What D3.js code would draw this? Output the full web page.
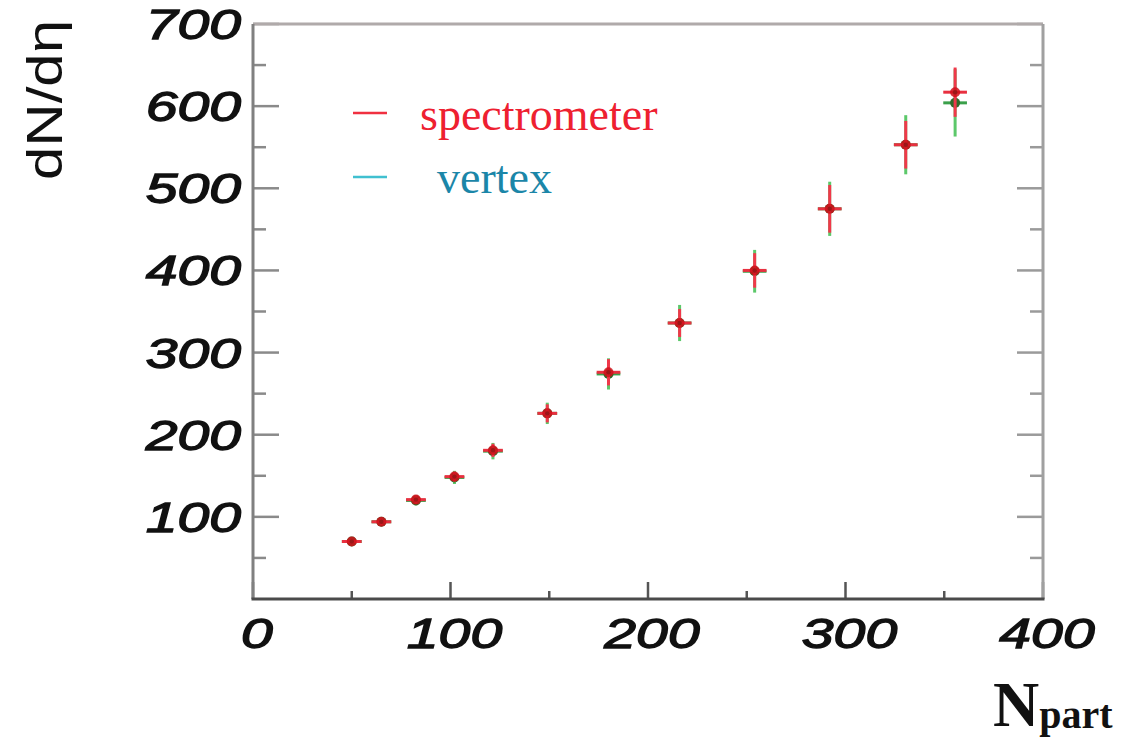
<!DOCTYPE html>
<html><head><meta charset="utf-8">
<script src="https://cdn.jsdelivr.net/npm/d3@7"></script>
<style>html,body{margin:0;padding:0;background:#fff;}svg{display:block;}</style>
</head><body>
<script>
// ---- data ----
const npart      = [50, 65, 82.5, 102, 121.5, 149, 180, 216, 254, 292, 330.5, 355.5];
const npartErr   = [5, 5, 5, 5, 5, 5, 6, 6, 6, 6, 6, 6];
const specY      = [70, 94, 121, 149, 181, 226, 276, 336, 400, 475, 553, 617];
const specErr    = [3, 4, 5, 6, 8, 11, 16, 17, 21, 29, 29, 30];
const vertY      = [70, 94, 120, 148, 180, 226, 274, 336, 399, 475, 553, 604];
const vertErr    = [4, 5, 6, 8, 10, 13, 19, 22, 26, 33, 36, 41];
const xTicks     = [0, 100, 200, 300, 400];
const xMinor     = [50, 150, 250, 350];
const yTicks     = [100, 200, 300, 400, 500, 600, 700];
const yMinor     = [50, 150, 250, 350, 450, 550, 650];
const legendLabels = ["spectrometer", "vertex"];

const W = 1121, H = 739;
const L = 253, R = 1043, T = 24, B = 599;
const svg = d3.select("body").append("svg").attr("width", W).attr("height", H);
const x = d3.scaleLinear().domain([0, 400]).range([L, R]);
const y = d3.scaleLinear().domain([0, 700]).range([B, T]);

// ticks (inward)
const g = svg.append("g");
g.selectAll(".ymaj").data(yTicks).join("line")
  .attr("x1", L).attr("x2", L + 26).attr("y1", d => y(d)).attr("y2", d => y(d))
  .attr("stroke", "#8a8a8a").attr("stroke-width", 2.5);
g.selectAll(".ymin").data(yMinor).join("line")
  .attr("x1", L).attr("x2", L + 13).attr("y1", d => y(d)).attr("y2", d => y(d))
  .attr("stroke", "#8a8a8a").attr("stroke-width", 2.5);
g.selectAll(".ymajr").data(yTicks).join("line")
  .attr("x1", R).attr("x2", R - 26).attr("y1", d => y(d)).attr("y2", d => y(d))
  .attr("stroke", "#9a9a9a").attr("stroke-width", 2.5);
g.selectAll(".yminr").data(yMinor).join("line")
  .attr("x1", R).attr("x2", R - 13).attr("y1", d => y(d)).attr("y2", d => y(d))
  .attr("stroke", "#9a9a9a").attr("stroke-width", 2.5);
g.selectAll(".xmaj").data(xTicks).join("line")
  .attr("x1", d => x(d)).attr("x2", d => x(d)).attr("y1", B).attr("y2", B - 17)
  .attr("stroke", "#555").attr("stroke-width", 2.5);
g.selectAll(".xmin").data(xMinor).join("line")
  .attr("x1", d => x(d)).attr("x2", d => x(d)).attr("y1", B).attr("y2", B - 8)
  .attr("stroke", "#555").attr("stroke-width", 2.5);

// frame
svg.append("line").attr("x1", L).attr("x2", R).attr("y1", T).attr("y2", T).attr("stroke", "#b0aaaa").attr("stroke-width", 3);
svg.append("line").attr("x1", R).attr("x2", R).attr("y1", T).attr("y2", B).attr("stroke", "#a0a0a0").attr("stroke-width", 3);
svg.append("line").attr("x1", L).attr("x2", L).attr("y1", T).attr("y2", B).attr("stroke", "#808080").attr("stroke-width", 3);
svg.append("line").attr("x1", L - 1.5).attr("x2", R + 1.5).attr("y1", B).attr("y2", B).attr("stroke", "#4a4a4a").attr("stroke-width", 3);

// tick labels
const tickFont = "'Liberation Sans', Arial, sans-serif";
svg.selectAll(".ylab").data(yTicks).join("text")
  .attr("transform", d => `translate(241,${y(d) + 15}) scale(1.36,1)`)
  .attr("text-anchor", "end").attr("font-family", tickFont).attr("font-style", "italic")
  .attr("font-size", 42).attr("fill", "#111").attr("stroke", "#111").attr("stroke-width", 1.3)
  .text(d => d);
svg.selectAll(".xlab").data(xTicks).join("text")
  .attr("transform", d => `translate(${x(d) + 4},648) scale(1.36,1)`)
  .attr("text-anchor", "middle").attr("font-family", tickFont).attr("font-style", "italic")
  .attr("font-size", 42).attr("fill", "#111").attr("stroke", "#111").attr("stroke-width", 1.3)
  .text(d => d);

// axis titles
svg.append("text").attr("transform", "translate(62,100) rotate(-90)")
  .attr("text-anchor", "middle").attr("font-family", tickFont).attr("font-size", 50)
  .attr("textLength", 160).attr("lengthAdjust", "spacingAndGlyphs").attr("fill", "#111").text("dN/dη");
const nt = svg.append("text").attr("x", 993).attr("y", 726)
  .attr("font-family", "'Liberation Serif', 'Times New Roman', serif").attr("font-weight", "bold").attr("fill", "#111");
nt.append("tspan").attr("font-size", 64).text("N");
nt.append("tspan").attr("font-size", 40).attr("dy", 2).text("part");

// data: vertex (green) below, spectrometer (red) on top
const idx = d3.range(npart.length);
const gv = svg.append("g");
gv.selectAll(".vbar").data(idx).join("line")
  .attr("x1", i => x(npart[i])).attr("x2", i => x(npart[i]))
  .attr("y1", i => y(vertY[i] - vertErr[i])).attr("y2", i => y(vertY[i] + vertErr[i]))
  .attr("stroke", "#5cc86a").attr("stroke-width", 3);
gv.selectAll(".vhbar").data(idx).join("line")
  .attr("x1", i => x(npart[i] - npartErr[i])).attr("x2", i => x(npart[i] + npartErr[i]))
  .attr("y1", i => y(vertY[i])).attr("y2", i => y(vertY[i]))
  .attr("stroke", "#3aa04a").attr("stroke-width", 3);
gv.selectAll(".vpt").data(idx).join("circle")
  .attr("cx", i => x(npart[i])).attr("cy", i => y(vertY[i])).attr("r", 5)
  .attr("fill", "#2f6a2a");

const gs = svg.append("g");
gs.selectAll(".sbar").data(idx).join("line")
  .attr("x1", i => x(npart[i])).attr("x2", i => x(npart[i]))
  .attr("y1", i => y(specY[i] - specErr[i])).attr("y2", i => y(specY[i] + specErr[i]))
  .attr("stroke", "#f0384a").attr("stroke-width", 3);
gs.selectAll(".shbar").data(idx).join("line")
  .attr("x1", i => x(npart[i] - npartErr[i])).attr("x2", i => x(npart[i] + npartErr[i]))
  .attr("y1", i => y(specY[i])).attr("y2", i => y(specY[i]))
  .attr("stroke", "#e83040").attr("stroke-width", 3);
gs.selectAll(".spt").data(idx).join("circle")
  .attr("cx", i => x(npart[i])).attr("cy", i => y(specY[i])).attr("r", 5)
  .attr("fill", "#d0101a").attr("fill-opacity", 0.85);
gs.selectAll(".spc").data(idx).join("circle")
  .attr("cx", i => x(npart[i])).attr("cy", i => y(specY[i])).attr("r", 2.2)
  .attr("fill", "#6a1a10").attr("fill-opacity", 0.55);

// legend
const legColors = ["#ee2030", "#1b86a8"];
const dashColors = ["#f03040", "#40c0d0"];
const legY = [113, 177];
const legTextX = [420, 437];
const legBase = [130, 193];
const lg = svg.append("g");
lg.selectAll(".ld").data(legendLabels).join("line")
  .attr("x1", 353).attr("x2", 387).attr("y1", (d, i) => legY[i]).attr("y2", (d, i) => legY[i])
  .attr("stroke", (d, i) => dashColors[i]).attr("stroke-width", 2.5);
lg.selectAll(".lt").data(legendLabels).join("text")
  .attr("x", (d, i) => legTextX[i]).attr("y", (d, i) => legBase[i])
  .attr("font-family", "'Liberation Serif', 'Times New Roman', serif").attr("font-size", 46)
  .attr("fill", (d, i) => legColors[i]).text(d => d);
</script>
</body></html>
